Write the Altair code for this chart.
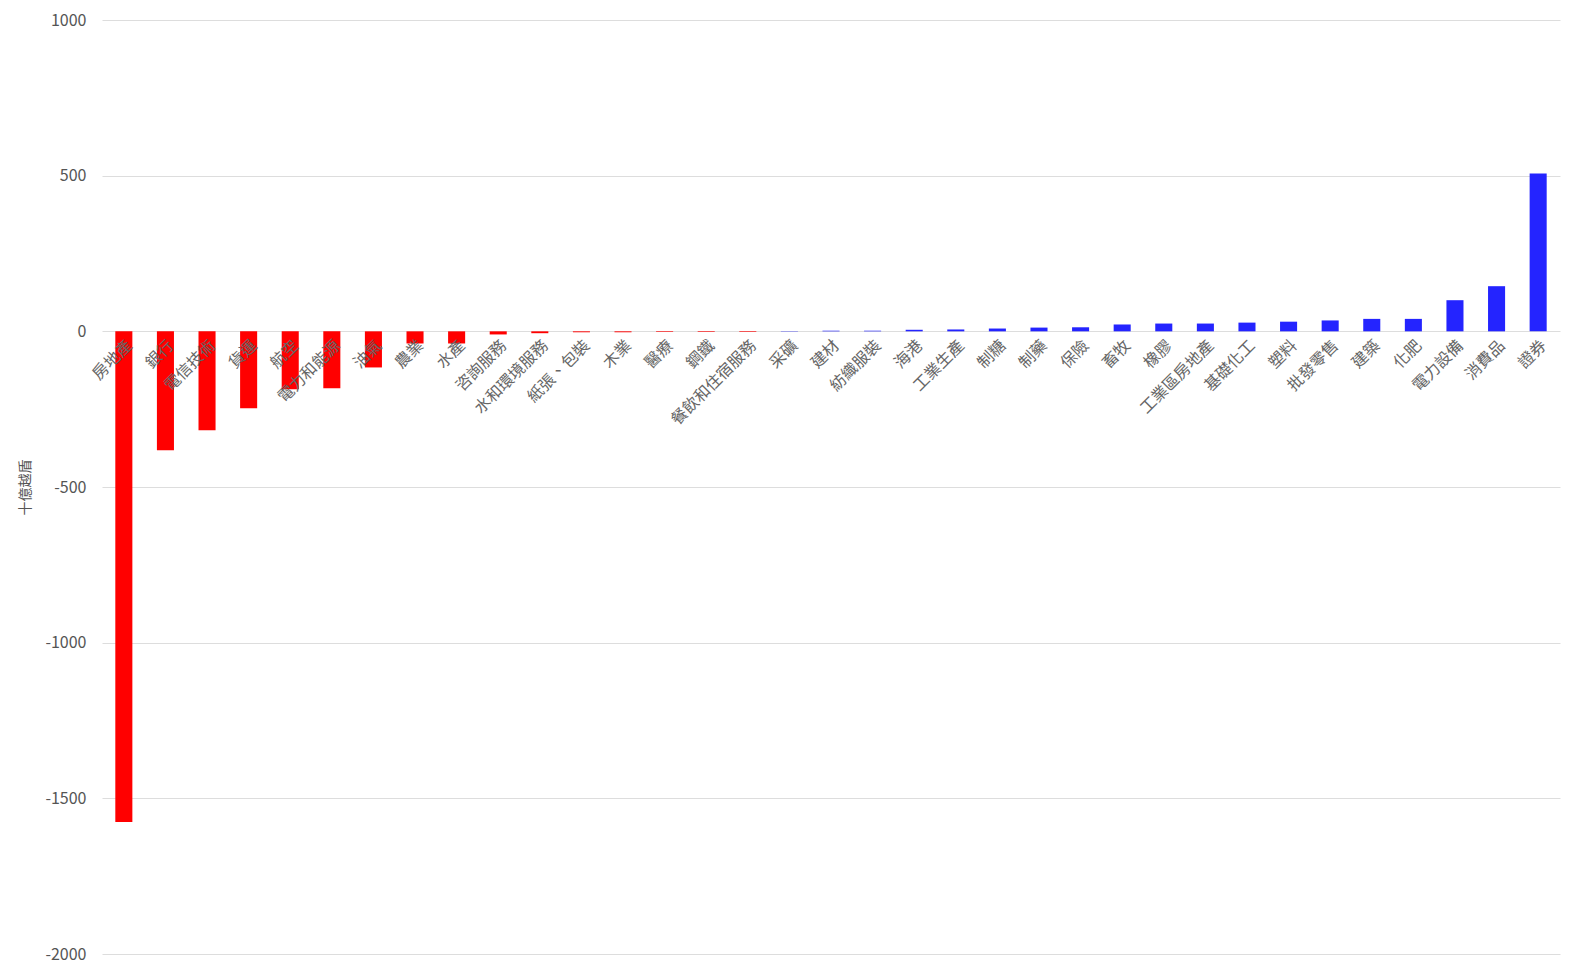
import altair as alt
import pandas as pd

categories = ["房地產", "銀行", "電信技術", "貨運", "航空", "電力和能源", "油氣", "農業", "水產",
              "咨詢服務", "水和環境服務", "紙張、包裝", "木業", "醫療", "鋼鐵", "餐飲和住宿服務",
              "采礦", "建材", "紡織服裝", "海港", "工業生產", "制糖", "制藥", "保險", "畜牧", "橡膠",
              "工業區房地產", "基礎化工", "塑料", "批發零售", "建築", "化肥", "電力設備", "消費品", "證券"]
values = [-1576, -382, -318, -247, -186, -183, -116, -39, -39,
          -10, -6, -3, -3, -2, -2, -2,
          1, 2, 2, 5, 6, 9, 12, 13, 22, 25,
          25, 28, 31, 35, 40, 40, 100, 145, 507]
y_ticks = [-2000, -1500, -1000, -500, 0, 500, 1000]

df = pd.DataFrame({"cat": categories, "val": values})

FONT = "Noto Sans CJK TC"

chart = alt.Chart(df).mark_bar().encode(
    x=alt.X("cat:N", sort=None, title=None,
            scale=alt.Scale(paddingInner=0.59, paddingOuter=0.32),
            axis=alt.Axis(labelAngle=-45, labelAlign="right", labelBaseline="top",
                          offset=-623, domain=False, ticks=False, grid=False,
                          labelFontSize=16, labelColor="#666666", labelFont=FONT,
                          labelPadding=6, zindex=1)),
    y=alt.Y("val:Q", title="十億越盾",
            scale=alt.Scale(domain=[-2000, 1000], nice=False),
            axis=alt.Axis(values=y_ticks, domain=False, ticks=False, grid=True,
                          labelExpr="'' + datum.value",
                          gridColor="#dddddd", labelFontSize=16, labelColor="#555555",
                          labelFont=FONT, labelPadding=16, titleFont=FONT,
                          titleFontSize=14, titleFontWeight="normal", titleColor="#555555",
                          titlePadding=12)),
    color=alt.condition(alt.datum.val < 0, alt.value("#ff0000"), alt.value("#2424ff")),
).properties(
    width=1458, height=934,
    padding={"left": 94, "right": 7, "top": 12, "bottom": 10},
    autosize=alt.AutoSizeParams(type="none"),
).configure_view(stroke=None)

chart.save("out.html", embed_options={"renderer": "svg", "actions": False})
